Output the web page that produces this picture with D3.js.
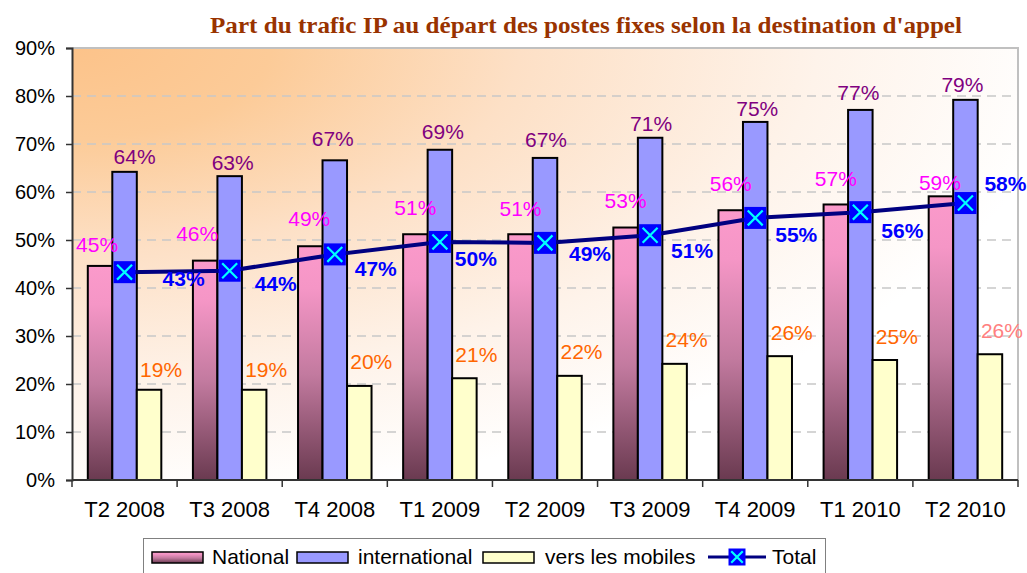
<!DOCTYPE html>
<html>
<head>
<meta charset="utf-8">
<script src="https://cdn.jsdelivr.net/npm/d3@7"></script>
<style>
  html, body { margin: 0; padding: 0; background: #fff; }
  svg { display: block; font-family: "Liberation Sans", Arial, sans-serif; }
</style>
</head>
<body>
<svg id="chart"></svg>
<script>
// ===================== DONNÉES =====================
const periods = ["T2 2008", "T3 2008", "T4 2008", "T1 2009", "T2 2009", "T3 2009", "T4 2009", "T1 2010", "T2 2010"];
const national = [0.446, 0.457, 0.487, 0.512, 0.512, 0.526, 0.562, 0.574, 0.591];
const international = [0.642, 0.633, 0.666, 0.688, 0.671, 0.713, 0.746, 0.771, 0.792];
const mobiles = [0.188, 0.188, 0.196, 0.212, 0.217, 0.242, 0.258, 0.250, 0.262];
const total = [0.433, 0.436, 0.470, 0.496, 0.494, 0.510, 0.546, 0.558, 0.577];
const yTicks = [0, 0.1, 0.2, 0.3, 0.4, 0.5, 0.6, 0.7, 0.8, 0.9];
const seriesNames = ["National", "international", "vers les mobiles"];

// décalages des étiquettes (placement manuel comme dans l'original)
const natLabelDy = [-21, -27, -28, -27, -26, -27, -27, -26, -14];
const natLabelDx = [-3, -8, -1, 0, 0, 0, 0, 0, -1];
const intLabelDy = [-15, -14, -22, -18, -18, -14, -13, -17, -15];
const intLabelDx = [10, 3, -2, 3, 1, 1, 2, -2, -3];
const totLabelOff = [[59, 6], [46, 13], [41, 14], [36, 17], [45, 11], [42, 15], [41, 17], [42, 18], [40, -20]];

// ===================== CONFIG =====================
const width = 1027;
const height = 573;
const margin = { top: 48, right: 9, bottom: 93, left: 72 };

const svg = d3.select("#chart").attr("width", width).attr("height", height);
const defs = svg.append("defs");

// fond du graphique : orange en haut à gauche vers blanc
const bg = defs.append("radialGradient")
  .attr("id", "bgGrad")
  .attr("cx", 0).attr("cy", 0).attr("fx", 0).attr("fy", 0).attr("r", 1.05);
bg.append("stop").attr("offset", 0).attr("stop-color", "#fcc38a");
bg.append("stop").attr("offset", 0.2).attr("stop-color", "#fccb98");
bg.append("stop").attr("offset", 0.45).attr("stop-color", "#fde0c6");
bg.append("stop").attr("offset", 0.75).attr("stop-color", "#fef3ea");
bg.append("stop").attr("offset", 1).attr("stop-color", "#ffffff");

// dégradé des barres "National"
const natGrad = defs.append("linearGradient")
  .attr("id", "natGrad")
  .attr("x1", 0).attr("y1", 0).attr("x2", 0).attr("y2", 1);
natGrad.append("stop").attr("offset", 0).attr("stop-color", "#fb9acb");
natGrad.append("stop").attr("offset", 0.18).attr("stop-color", "#f596c6");
natGrad.append("stop").attr("offset", 0.55).attr("stop-color", "#c27a9f");
natGrad.append("stop").attr("offset", 1).attr("stop-color", "#6a3a50");

const x0 = margin.left, x1 = width - margin.right;
const yTop = margin.top, yBot = height - margin.bottom;

// ===================== ÉCHELLES =====================
const x = d3.scaleBand().domain(periods).range([x0, x1]).padding(0);
const groupW = 73.5;
const xs = d3.scaleBand().domain(seriesNames).range([0, groupW]).padding(0);
const groupOff = (x.bandwidth() - groupW) / 2;
const y = d3.scaleLinear().domain([0, 0.9]).range([yBot, yTop]);

// ===================== FOND + GRILLE =====================
svg.append("rect")
  .attr("x", x0).attr("y", yTop)
  .attr("width", x1 - x0).attr("height", yBot - yTop)
  .attr("fill", "url(#bgGrad)");

svg.append("g")
  .selectAll("line")
  .data(yTicks.filter((t) => t > 0 && t < 0.9))
  .join("line")
  .attr("x1", x0).attr("x2", x1)
  .attr("y1", (d) => y(d)).attr("y2", (d) => y(d))
  .attr("stroke", "#c8c8c8")
  .attr("stroke-width", 1.5)
  .attr("stroke-dasharray", "9,6");

// bordure haut / droite
svg.append("path")
  .attr("d", `M${x0},${yTop}H${x1}V${yBot}`)
  .attr("fill", "none")
  .attr("stroke", "#c0c0c0")
  .attr("stroke-width", 2);

// ===================== BARRES =====================
const rows = periods.map((p, i) => ({
  period: p, i,
  values: [
    { key: "National", v: national[i], fill: "url(#natGrad)" },
    { key: "international", v: international[i], fill: "#9999ff" },
    { key: "vers les mobiles", v: mobiles[i], fill: "#ffffcc" }
  ]
}));

const groups = svg.append("g")
  .selectAll("g")
  .data(rows)
  .join("g")
  .attr("transform", (d) => `translate(${x(d.period) + groupOff},0)`);

groups.selectAll("rect")
  .data((d) => d.values)
  .join("rect")
  .attr("x", (d) => xs(d.key))
  .attr("y", (d) => y(d.v))
  .attr("width", xs.bandwidth())
  .attr("height", (d) => y(0) - y(d.v))
  .attr("fill", (d) => d.fill)
  .attr("stroke", "#000")
  .attr("stroke-width", 2);

// ===================== AXES =====================
const yAxis = svg.append("g")
  .attr("transform", `translate(${x0},0)`)
  .call(d3.axisLeft(y).tickValues(yTicks).tickFormat(d3.format(".0%")).tickSize(6).tickPadding(11));
yAxis.attr("font-family", null);
yAxis.select(".domain").attr("stroke", "#333").attr("stroke-width", 2);
yAxis.selectAll(".tick line").attr("stroke", "#333").attr("stroke-width", 1.5);
yAxis.selectAll(".tick text")
  .attr("font-size", 20)
  .attr("fill", "#000");

const xAxis = svg.append("g").attr("transform", `translate(0,${yBot})`);
xAxis.append("line")
  .attr("x1", x0).attr("x2", x1)
  .attr("stroke", "#333").attr("stroke-width", 2);
xAxis.selectAll("line.tk")
  .data(periods.map((p) => x(p)).concat([x1]))
  .join("line")
  .attr("class", "tk")
  .attr("x1", (d) => d).attr("x2", (d) => d)
  .attr("y1", 0).attr("y2", 7)
  .attr("stroke", "#333").attr("stroke-width", 1.5);
xAxis.selectAll("text")
  .data(periods)
  .join("text")
  .attr("x", (d) => x(d) + x.bandwidth() / 2)
  .attr("y", 37)
  .attr("text-anchor", "middle")
  .attr("font-size", 22)
  .attr("fill", "#000")
  .text((d) => d);

// ===================== LIGNE TOTAL =====================
const cx = (i) => x(periods[i]) + x.bandwidth() / 2;
const line = d3.line().x((d, i) => cx(i)).y((d) => y(d));

svg.append("path")
  .datum(total)
  .attr("d", line)
  .attr("fill", "none")
  .attr("stroke", "#000080")
  .attr("stroke-width", 4);

function marker(sel, s) {
  sel.append("rect")
    .attr("x", -s / 2).attr("y", -s / 2)
    .attr("width", s).attr("height", s)
    .attr("fill", "#0000ff");
  const a = s * 0.34;
  sel.append("path")
    .attr("d", `M${-a},${-a}L${a},${a}M${-a},${a}L${a},${-a}`)
    .attr("stroke", "#00ffff")
    .attr("stroke-width", 2.2);
}

svg.append("g")
  .selectAll("g")
  .data(total)
  .join("g")
  .attr("transform", (d, i) => `translate(${cx(i)},${y(d)})`)
  .each(function () { marker(d3.select(this), 22); });

// ===================== ÉTIQUETTES =====================
const fmt = d3.format(".0%");
const lbl = svg.append("g")
  .attr("font-size", 21)
  .attr("text-anchor", "middle")
  .attr("dominant-baseline", "central");

const barCx = (i, key) => x(periods[i]) + groupOff + xs(key) + xs.bandwidth() / 2;

lbl.selectAll("text.nat")
  .data(national)
  .join("text")
  .attr("class", "nat")
  .attr("x", (d, i) => barCx(i, "National") + natLabelDx[i])
  .attr("y", (d, i) => y(d) + natLabelDy[i])
  .attr("fill", "#ff00ff")
  .text((d) => fmt(d));

lbl.selectAll("text.int")
  .data(international)
  .join("text")
  .attr("class", "int")
  .attr("x", (d, i) => barCx(i, "international") + intLabelDx[i])
  .attr("y", (d, i) => y(d) + intLabelDy[i])
  .attr("fill", "#800080")
  .text((d) => fmt(d));

lbl.selectAll("text.mob")
  .data(mobiles)
  .join("text")
  .attr("class", "mob")
  .attr("x", (d, i) => barCx(i, "vers les mobiles") + 12)
  .attr("y", (d, i) => y(d) - (i === 0 || i === 1 ? 20 : 24))
  .attr("fill", (d, i) => (i === mobiles.length - 1 ? "#ff8080" : "#ff6600"))
  .text((d) => fmt(d));

lbl.selectAll("text.tot")
  .data(total)
  .join("text")
  .attr("class", "tot")
  .attr("x", (d, i) => cx(i) + totLabelOff[i][0])
  .attr("y", (d, i) => y(d) + totLabelOff[i][1])
  .attr("fill", "#0000ff")
  .attr("font-weight", "bold")
  .text((d) => fmt(d));

// ===================== TITRE =====================
svg.append("text")
  .attr("x", 210)
  .attr("y", 33)
  .attr("font-family", "'Liberation Serif', 'Times New Roman', serif")
  .attr("font-weight", "bold")
  .attr("font-size", 23)
  .attr("fill", "#993300")
  .attr("textLength", 752)
  .attr("lengthAdjust", "spacingAndGlyphs")
  .text("Part du trafic IP au départ des postes fixes selon la destination d'appel");

// ===================== LÉGENDE =====================
const legend = svg.append("g");
legend.append("rect")
  .attr("x", 143.5).attr("y", 538.5)
  .attr("width", 682).attr("height", 50)
  .attr("fill", "#fff")
  .attr("stroke", "#808080")
  .attr("stroke-width", 1);

const legItems = [
  { name: "National", fill: "url(#natGrad)", sx: 152, tx: 212 },
  { name: "international", fill: "#9999ff", sx: 297, tx: 358 },
  { name: "vers les mobiles", fill: "#ffffcc", sx: 483, tx: 545 }
];
legItems.forEach((d) => {
  legend.append("rect")
    .attr("x", d.sx).attr("y", 552)
    .attr("width", 51).attr("height", 11)
    .attr("fill", d.fill)
    .attr("stroke", "#000")
    .attr("stroke-width", 1.5);
  legend.append("text")
    .attr("x", d.tx).attr("y", 564)
    .attr("font-size", 21)
    .attr("fill", "#000")
    .text(d.name);
});
legend.append("line")
  .attr("x1", 708).attr("x2", 766)
  .attr("y1", 557).attr("y2", 557)
  .attr("stroke", "#000080")
  .attr("stroke-width", 3);
marker(legend.append("g").attr("transform", "translate(737,557)"), 17);
legend.append("text")
  .attr("x", 772).attr("y", 564)
  .attr("font-size", 21)
  .attr("fill", "#000")
  .text("Total");
</script>
</body>
</html>
